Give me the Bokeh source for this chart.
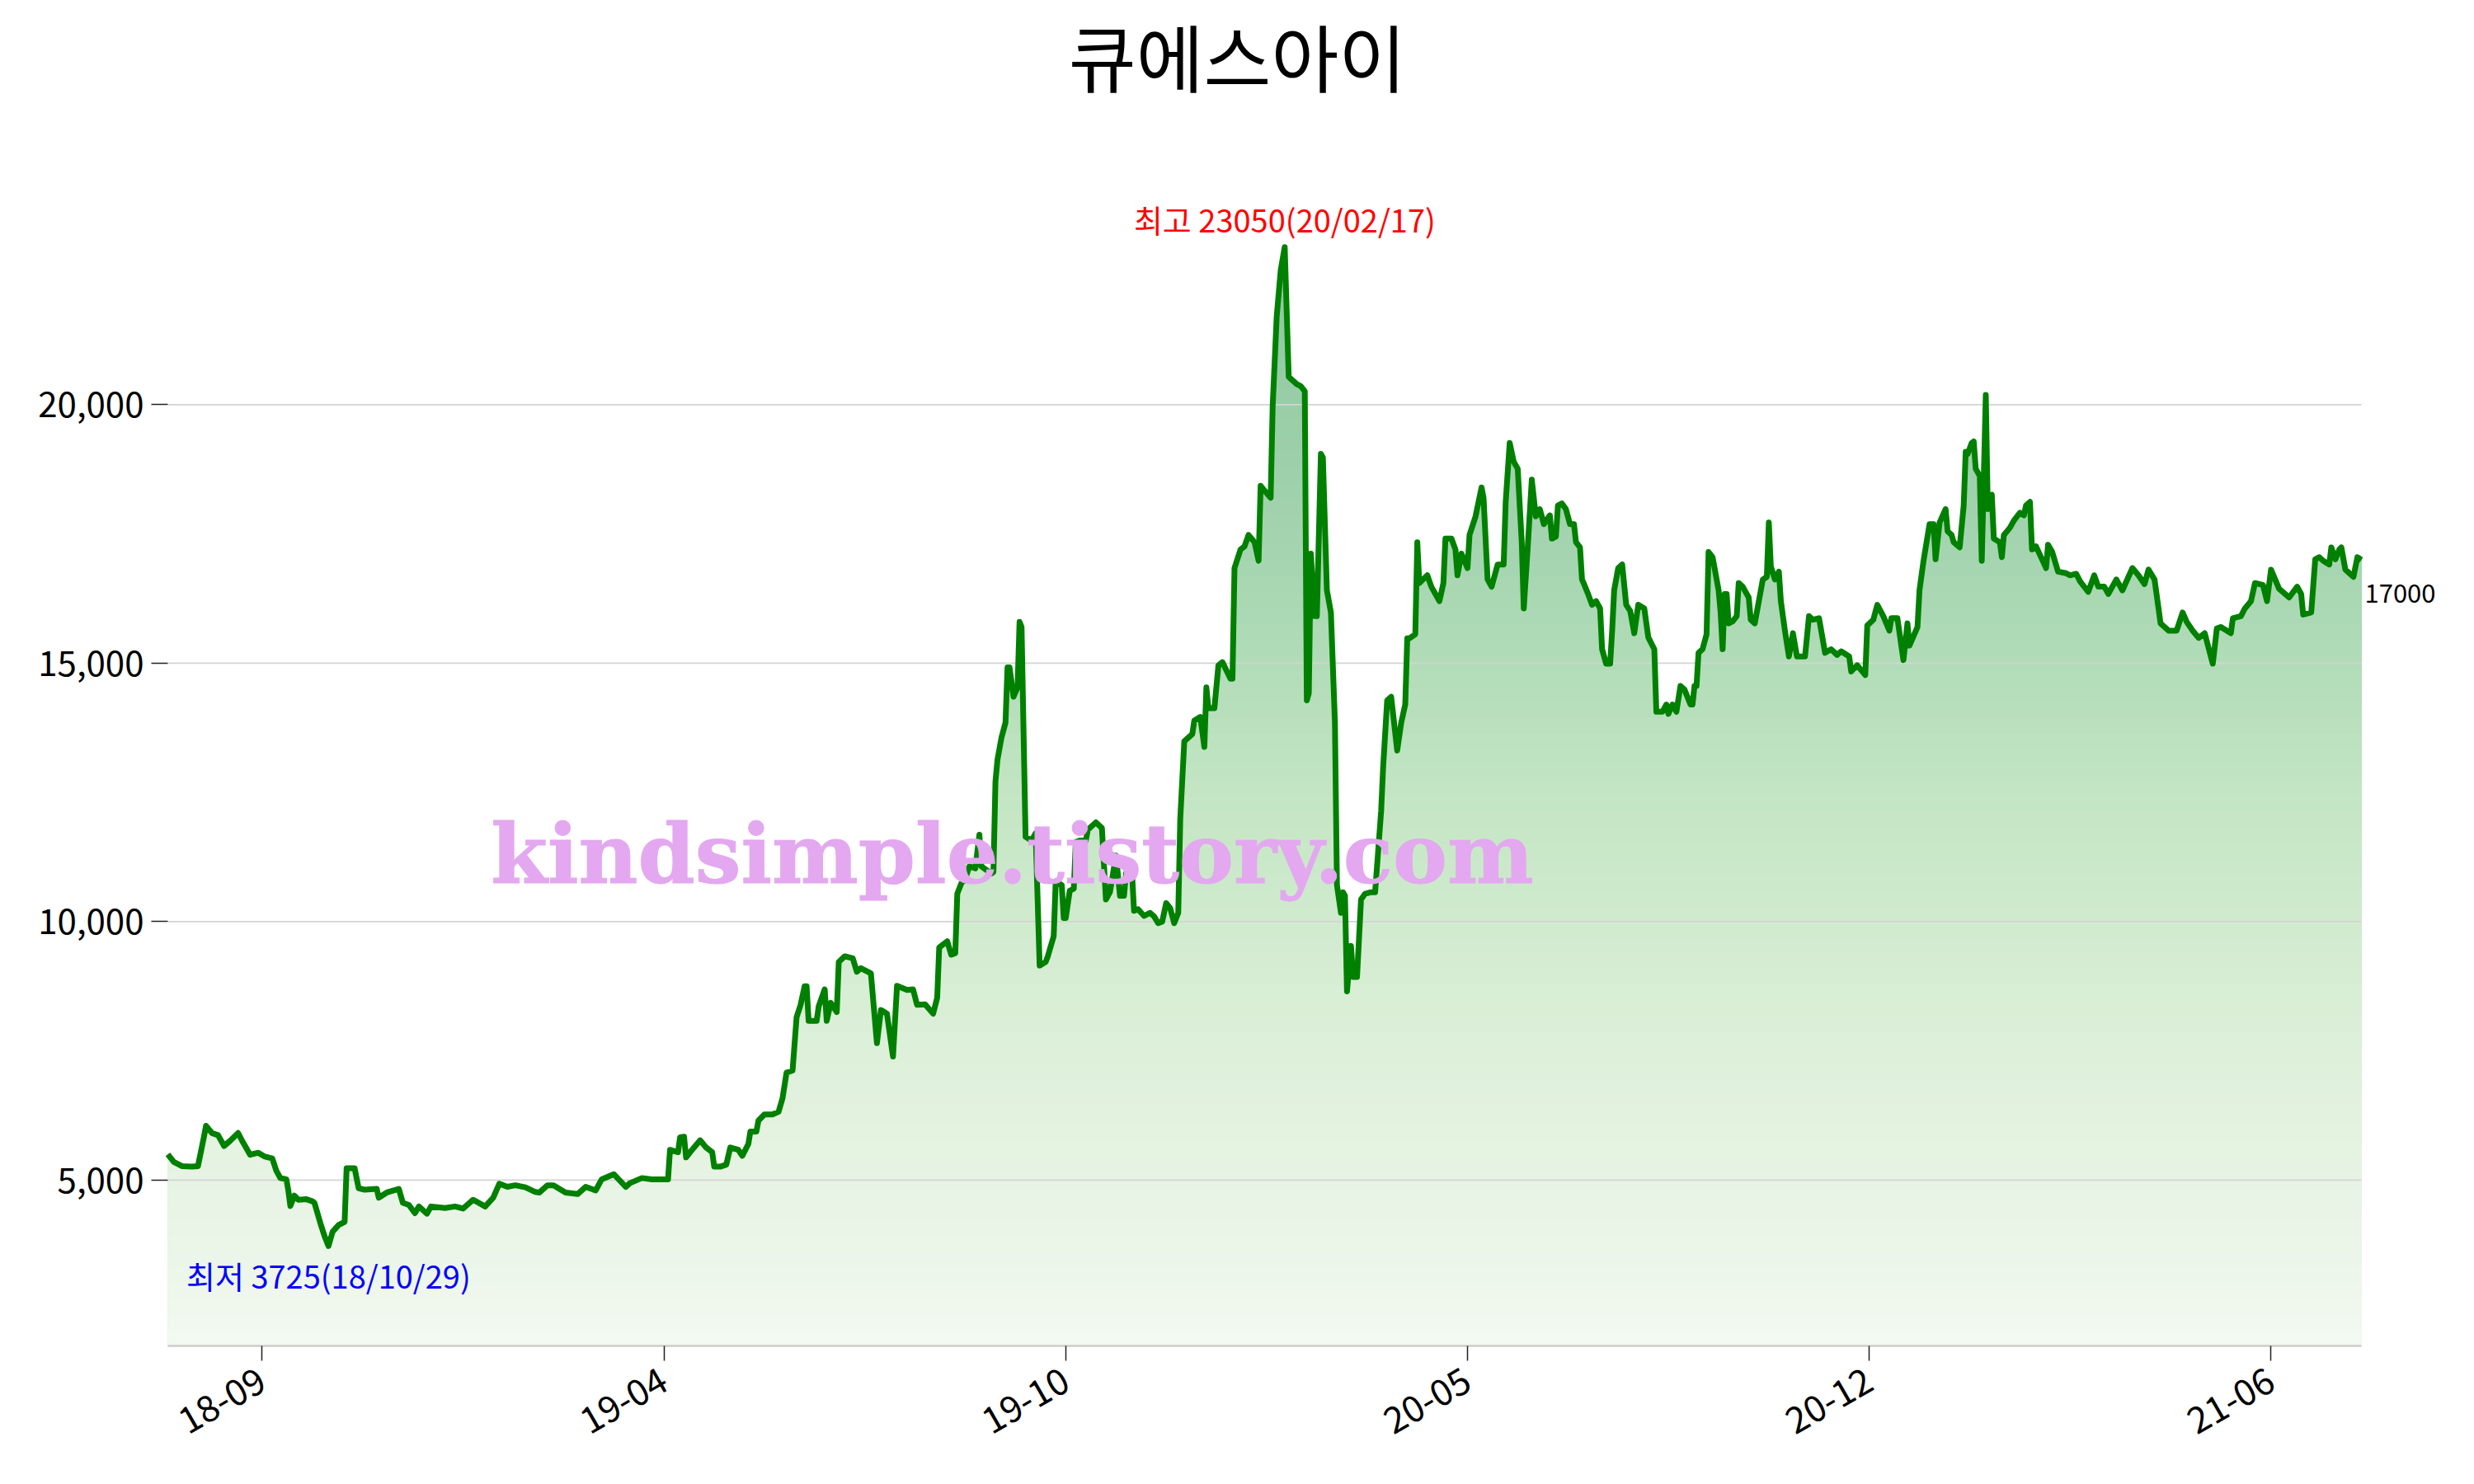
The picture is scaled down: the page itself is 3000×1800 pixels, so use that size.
import math
import numpy as np
import pandas as pd
from bokeh.plotting import figure
from bokeh.models import (Range1d, FixedTicker, DatetimeTickFormatter,
                          NumeralTickFormatter, Label)
from bokeh.embed import file_html
from bokeh.resources import INLINE

# ---------------- data ----------------
stock_name = "큐에스아이"

dates = [
    "2018-08-10", "2018-08-13", "2018-08-17", "2018-08-22", "2018-08-25", "2018-08-28", "2018-08-29",
    "2018-09-01", "2018-09-04", "2018-09-07", "2018-09-10", "2018-09-14", "2018-09-16", "2018-09-20",
    "2018-09-24", "2018-09-27", "2018-10-01", "2018-10-03", "2018-10-05", "2018-10-08", "2018-10-09",
    "2018-10-10", "2018-10-12", "2018-10-14", "2018-10-18", "2018-10-21", "2018-10-22", "2018-10-25",
    "2018-10-27", "2018-10-29", "2018-10-31", "2018-11-03", "2018-11-06", "2018-11-07", "2018-11-11",
    "2018-11-13", "2018-11-16", "2018-11-22", "2018-11-23", "2018-11-27", "2018-12-03", "2018-12-05",
    "2018-12-08", "2018-12-11", "2018-12-13", "2018-12-15", "2018-12-17", "2018-12-19", "2018-12-26",
    "2018-12-31", "2019-01-04", "2019-01-09", "2019-01-15", "2019-01-19", "2019-01-22", "2019-01-26",
    "2019-01-30", "2019-02-04", "2019-02-09",
    "2019-02-11", "2019-02-15", "2019-02-18", "2019-02-24", "2019-03-02", "2019-03-06", "2019-03-11",
    "2019-03-14", "2019-03-20", "2019-03-26", "2019-03-28", "2019-04-03", "2019-04-08", "2019-04-16",
    "2019-04-17", "2019-04-21", "2019-04-22", "2019-04-24", "2019-04-25", "2019-04-27", "2019-05-02",
    "2019-05-05", "2019-05-08", "2019-05-09", "2019-05-12", "2019-05-15", "2019-05-17", "2019-05-21",
    "2019-05-23", "2019-05-26", "2019-05-27", "2019-05-30", "2019-05-31", "2019-06-03", "2019-06-07",
    "2019-06-10", "2019-06-12", "2019-06-14", "2019-06-17", "2019-06-19", "2019-06-21", "2019-06-23",
    "2019-06-24", "2019-06-25", "2019-06-29", "2019-06-30", "2019-07-03", "2019-07-04", "2019-07-06",
    "2019-07-09", "2019-07-10", "2019-07-13", "2019-07-17", "2019-07-19", "2019-07-21", "2019-07-26",
    "2019-07-29", "2019-07-31", "2019-08-03", "2019-08-06", "2019-08-08", "2019-08-13",
    "2019-08-16", "2019-08-18", "2019-08-22", "2019-08-26", "2019-08-28", "2019-08-29", "2019-09-02",
    "2019-09-04", "2019-09-06", "2019-09-07", "2019-09-09", "2019-09-11", "2019-09-13", "2019-09-16",
    "2019-09-18", "2019-09-19", "2019-09-24", "2019-09-25", "2019-09-26", "2019-09-27", "2019-09-29",
    "2019-10-01", "2019-10-02", "2019-10-03", "2019-10-05", "2019-10-07", "2019-10-08", "2019-10-09",
    "2019-10-11", "2019-10-14", "2019-10-16", "2019-10-18", "2019-10-21", "2019-10-22", "2019-10-25",
    "2019-10-26", "2019-10-29", "2019-10-30", "2019-10-31", "2019-11-02", "2019-11-04", "2019-11-05",
    "2019-11-07", "2019-11-10", "2019-11-11", "2019-11-15", "2019-11-18", "2019-11-20", "2019-11-22",
    "2019-11-25", "2019-11-27", "2019-11-29", "2019-11-30", "2019-12-03", "2019-12-04", "2019-12-06",
    "2019-12-09", "2019-12-12", "2019-12-14", "2019-12-16", "2019-12-18", "2019-12-20", "2019-12-22",
    "2019-12-24", "2019-12-26", "2019-12-27", "2019-12-29", "2020-01-02", "2020-01-03", "2020-01-06",
    "2020-01-08", "2020-01-09", "2020-01-10", "2020-01-13", "2020-01-15", "2020-01-17", "2020-01-21",
    "2020-01-22", "2020-01-23", "2020-01-26", "2020-01-28", "2020-01-30", "2020-02-02", "2020-02-04",
    "2020-02-05", "2020-02-08", "2020-02-10", "2020-02-11", "2020-02-13", "2020-02-15", "2020-02-17",
    "2020-02-19", "2020-02-23", "2020-02-25", "2020-02-27", "2020-02-28", "2020-02-29", "2020-03-01",
    "2020-03-03", "2020-03-04", "2020-03-06", "2020-03-07", "2020-03-09", "2020-03-11", "2020-03-13",
    "2020-03-14", "2020-03-16", "2020-03-17", "2020-03-18", "2020-03-19", "2020-03-21", "2020-03-22",
    "2020-03-24", "2020-03-26", "2020-03-28", "2020-03-31", "2020-04-02", "2020-04-05", "2020-04-06",
    "2020-04-08", "2020-04-10", "2020-04-13", "2020-04-15", "2020-04-17", "2020-04-18", "2020-04-19",
    "2020-04-22", "2020-04-23", "2020-04-24", "2020-04-28", "2020-04-30", "2020-05-04", "2020-05-06",
    "2020-05-07", "2020-05-10", "2020-05-12", "2020-05-13", "2020-05-15", "2020-05-18", "2020-05-19",
    "2020-05-22", "2020-05-25", "2020-05-26", "2020-05-28", "2020-05-30", "2020-06-02", "2020-06-05",
    "2020-06-06", "2020-06-08", "2020-06-10", "2020-06-12", "2020-06-14", "2020-06-15", "2020-06-17",
    "2020-06-19", "2020-06-21", "2020-06-23", "2020-06-25", "2020-06-28", "2020-06-29", "2020-07-01",
    "2020-07-02", "2020-07-04", "2020-07-06", "2020-07-08", "2020-07-10", "2020-07-11", "2020-07-13",
    "2020-07-14", "2020-07-15", "2020-07-17", "2020-07-19", "2020-07-21", "2020-07-23", "2020-07-24",
    "2020-07-26", "2020-07-28", "2020-07-29", "2020-07-30", "2020-08-01", "2020-08-03", "2020-08-05",
    "2020-08-07", "2020-08-09", "2020-08-11", "2020-08-14", "2020-08-16",
    "2020-08-19", "2020-08-20", "2020-08-23", "2020-08-25", "2020-08-26", "2020-08-28", "2020-08-30",
    "2020-09-01", "2020-09-03", "2020-09-06", "2020-09-07", "2020-09-08", "2020-09-09", "2020-09-10",
    "2020-09-12", "2020-09-14", "2020-09-15", "2020-09-17", "2020-09-20", "2020-09-21", "2020-09-22",
    "2020-09-23", "2020-09-24", "2020-09-25", "2020-09-27", "2020-09-29", "2020-09-30", "2020-10-02",
    "2020-10-05", "2020-10-06", "2020-10-08", "2020-10-12", "2020-10-14", "2020-10-15", "2020-10-16",
    "2020-10-18", "2020-10-20", "2020-10-21", "2020-10-23", "2020-10-25", "2020-10-27", "2020-10-29",
    "2020-11-02", "2020-11-04", "2020-11-06", "2020-11-09", "2020-11-12", "2020-11-15", "2020-11-18",
    "2020-11-20", "2020-11-24", "2020-11-25", "2020-11-28", "2020-12-02", "2020-12-03", "2020-12-06",
    "2020-12-08", "2020-12-11", "2020-12-14", "2020-12-15", "2020-12-18", "2020-12-21", "2020-12-23",
    "2020-12-24", "2020-12-28", "2020-12-29", "2020-12-31", "2021-01-03", "2021-01-05", "2021-01-06",
    "2021-01-08", "2021-01-11", "2021-01-12", "2021-01-14", "2021-01-15", "2021-01-18", "2021-01-20",
    "2021-01-21", "2021-01-22", "2021-01-24", "2021-01-25", "2021-01-26", "2021-01-28", "2021-01-29",
    "2021-01-31", "2021-02-01", "2021-02-03", "2021-02-04", "2021-02-07", "2021-02-08", "2021-02-09",
    "2021-02-12", "2021-02-14", "2021-02-17",
    "2021-02-19", "2021-02-20", "2021-02-22", "2021-02-23", "2021-02-25", "2021-02-28", "2021-03-02",
    "2021-03-03", "2021-03-05", "2021-03-08", "2021-03-12", "2021-03-14", "2021-03-17", "2021-03-19",
    "2021-03-23", "2021-03-26", "2021-03-28", "2021-03-31", "2021-04-02", "2021-04-06", "2021-04-09",
    "2021-04-14", "2021-04-17", "2021-04-20", "2021-04-22", "2021-04-25", "2021-04-27", "2021-04-28",
    "2021-05-02", "2021-05-06", "2021-05-09", "2021-05-11", "2021-05-14", "2021-05-17", "2021-05-20",
    "2021-05-24", "2021-05-26", "2021-05-28", "2021-06-02", "2021-06-03", "2021-06-07", "2021-06-09",
    "2021-06-12", "2021-06-14", "2021-06-18", "2021-06-20", "2021-06-22", "2021-06-26", "2021-06-29",
    "2021-07-01", "2021-07-05", "2021-07-07", "2021-07-08", "2021-07-12", "2021-07-14", "2021-07-16",
    "2021-07-18", "2021-07-21", "2021-07-22", "2021-07-24", "2021-07-26", "2021-07-27", "2021-07-29",
    "2021-08-02", "2021-08-04", "2021-08-06",
]

prices = [
    5500, 5350, 5270, 5260, 5270, 5840, 6050,
    5910, 5870, 5660, 5760, 5910, 5760, 5490,
    5530, 5460, 5420, 5185, 5040, 5015, 4800,
    4500, 4700, 4620, 4630, 4590, 4560, 4160,
    3920, 3725, 4000, 4130, 4190, 5230, 5230,
    4840, 4815, 4830, 4660, 4760, 4830, 4560,
    4520, 4360, 4490, 4420, 4350, 4490, 4460,
    4490, 4450, 4620, 4490, 4660, 4930, 4870,
    4900, 4860, 4770,
    4760, 4900, 4900, 4760, 4730, 4870, 4800,
    5015, 5115, 4870, 4940, 5040, 5015, 5015,
    5585, 5540, 5830, 5840, 5440, 5540, 5770,
    5630, 5540, 5260, 5260, 5300, 5630, 5585,
    5470, 5700, 5940, 5940, 6150, 6270, 6270,
    6320, 6580, 7080, 7120, 8150, 8390, 8750,
    8750, 8080, 8080, 8360, 8690, 8080, 8430,
    8250, 9220, 9330, 9290, 9030, 9100, 9000,
    7650, 8290, 8220, 7390, 8760, 8680,
    8690, 8390, 8400, 8220, 8530, 9500, 9620,
    9360, 9390, 10540, 10740, 10830, 11070, 11030,
    11680, 11070, 10930, 10960, 12710, 13130, 13560,
    13850, 14920, 14920, 14350, 14530, 15800, 15700,
    11640, 11570, 11710, 9150, 9220, 9320, 9720,
    10780, 10710, 10070, 10070, 10600, 10640, 11540,
    11570, 11570, 11780, 11920, 11810, 10430, 10570,
    11280, 10500, 10500, 10930, 10930, 10210, 10240,
    10110, 10170, 10100, 9970, 10000, 10360, 10260,
    9970, 10170, 11990, 13490, 13630, 13890, 13960,
    13380, 14530, 14130, 14130, 14960, 15020, 14700,
    14700, 16840, 17200, 17260, 17480, 17340, 16980,
    18430, 18290, 18200, 19970, 21700, 22600, 23050,
    20540, 20400, 20360, 20260, 14280, 14420, 17120,
    15910, 15910, 19050, 18980, 16410, 15980, 13850,
    10710, 10170, 10570, 10500, 8650, 9530, 8930,
    8930, 10430, 10540, 10570, 10570, 12140, 12990,
    14280, 14350, 13310, 13850, 14200, 15480, 15480,
    15560, 17340, 16550, 16700, 16480, 16200, 16550,
    17410, 17410, 17200, 16700, 17120, 16840, 17480,
    17840, 18400, 18190, 16620, 16480, 16910, 16910,
    18120, 19260, 18900, 18760, 17340, 16060, 17260,
    18550, 17840, 17980, 17690, 17860, 17410, 17450,
    18050, 18090, 17980, 17690, 17690, 17340, 17240,
    16620, 16530, 16340, 16130, 16200, 16060, 15270,
    14990, 14990, 15630, 16410, 16840, 16910, 16130,
    16010, 15580, 16130, 16060, 15500,
    15270, 14060, 14060, 14200, 14020, 14200, 14060,
    14560, 14490, 14200, 14200, 14560, 14560, 15200,
    15270, 15560, 17150, 17050, 16410, 15980, 15270,
    16340, 16340, 15770, 15810, 15910, 16550, 16480,
    16270, 15840, 15770, 16620, 16670, 17720, 16870,
    16620, 16770, 16200, 15630, 15130, 15580, 15130,
    15130, 15910, 15840, 15870, 15200, 15270, 15160,
    15230, 15130, 14840, 14960, 14770, 15730, 15840,
    16130, 15910, 15630, 15870, 15870, 15060, 15770,
    15340, 15700, 16410, 16980, 17690, 17690, 17010,
    17720, 17980, 17550, 17480, 17340, 17240, 18050,
    19090, 19050, 19260, 19290, 18760, 18620, 16980,
    20190, 17980, 18260, 17410, 17340, 17050, 17480,
    17620, 17760, 17910,
    17860, 18050, 18120, 17200, 17260, 17010, 16840,
    17290, 17160, 16770, 16740, 16700, 16730, 16580,
    16380, 16700, 16480, 16480, 16340, 16620, 16410,
    16840, 16700, 16530, 16810, 16620, 16060, 15770,
    15630, 15630, 15980, 15800, 15630, 15490, 15580,
    14990, 15670, 15700, 15580, 15870, 15910, 16060,
    16200, 16550, 16510, 16200, 16810, 16440, 16340,
    16270, 16480, 16340, 15940, 15980, 17010, 17050,
    16980, 16910, 17240, 17010, 17200, 17240, 16810,
    16670, 17050, 17000,
]

y_ticks = [5000, 10000, 15000, 20000]
x_tick_dates = ["2018-09-26", "2019-04-14", "2019-10-31", "2020-05-18", "2020-12-04", "2021-06-22"]
watermark_text = "kindsimple.tistory.com"

# ---------------- derived ----------------
x = pd.to_datetime(dates)
y = np.array(prices, dtype=float)
imax, imin = int(np.argmax(y)), int(np.argmin(y))
ymax, ymin = y[imax], y[imin]
pad = 0.1 * (ymax - ymin)
y0, y1 = ymin - pad, ymax + pad


def ms(ts):
    return pd.Timestamp(ts).value / 1e6


xs, xe = ms(x[0]), ms(x[-1])

# layout (pixels): plot area plus room for the title above and the last-value label at right
PLOT_W, PLOT_H = 2660, 1454
TOP_ROOM, RIGHT_ROOM = 178, 110
x_end = xe + (xe - xs) * RIGHT_ROOM / PLOT_W
y_top = y1 + (y1 - y0) * TOP_ROOM / PLOT_H

FONT = "Noto Sans CJK KR"

p = figure(title=None, x_axis_type="datetime",
           x_range=Range1d(xs, x_end), y_range=Range1d(y0, y_top),
           frame_width=PLOT_W + RIGHT_ROOM, frame_height=PLOT_H + TOP_ROOM,
           min_border_left=203, min_border_right=5,
           min_border_top=0, min_border_bottom=155,
           output_backend="svg", toolbar_location=None)
p.outline_line_color = None
p.background_fill_color = "white"
p.border_fill_color = "white"

# gradient fill under the line: stacked layers, darkest first
grad_v = [y0, 3000, 7500, 12500, 17000, ymax]
grad_r = [243, 238, 222, 195, 165, 140]
grad_g = [249, 246, 240, 229, 213, 198]
grad_b = [241, 235, 218, 195, 176, 158]
n_layers = 70
edges = np.linspace(y0, ymax, n_layers + 1)
for k in range(n_layers, 0, -1):
    mid = 0.5 * (edges[k - 1] + edges[k])
    r = int(round(np.interp(mid, grad_v, grad_r)))
    g = int(round(np.interp(mid, grad_v, grad_g)))
    b = int(round(np.interp(mid, grad_v, grad_b)))
    top = y if k == n_layers else np.minimum(y, edges[k])
    p.varea(x=x, y1=np.full(len(y), y0), y2=top,
            fill_color=f"#{r:02x}{g:02x}{b:02x}", fill_alpha=1.0, level="underlay")

# horizontal grid lines across the data span (drawn over the fill)
p.segment(x0=[x[0]] * len(y_ticks), x1=[x[-1]] * len(y_ticks), y0=y_ticks, y1=y_ticks,
          line_color="#d3d3d3", line_width=1.8, level="glyph")

p.line(x, y, line_color="#008000", line_width=7, line_join="round", level="annotation")

p.xgrid.visible = False
p.ygrid.visible = False

# y axis
p.yaxis.ticker = FixedTicker(ticks=y_ticks, minor_ticks=[])
p.yaxis.formatter = NumeralTickFormatter(format="0,0")
p.yaxis.axis_line_color = None
p.yaxis.major_tick_out = 20
p.yaxis.major_tick_in = 0
p.yaxis.major_tick_line_color = "#222222"
p.yaxis.major_tick_line_width = 1.5
p.yaxis.minor_tick_line_color = None
p.yaxis.major_label_text_font = FONT
p.yaxis.major_label_text_font_size = "42px"
p.yaxis.major_label_text_color = "black"
p.yaxis.major_label_standoff = 9

# x axis
fmt = "%y-%m"
p.xaxis.ticker = FixedTicker(ticks=[ms(t) for t in x_tick_dates], minor_ticks=[])
p.xaxis.formatter = DatetimeTickFormatter(microseconds=fmt, milliseconds=fmt, seconds=fmt,
                                          minsec=fmt, minutes=fmt, hourmin=fmt, hours=fmt,
                                          days=fmt, months=fmt, years=fmt)
p.xaxis.bounds = (xs, xe)
p.xaxis.axis_line_color = "#cccccc"
p.xaxis.axis_line_width = 2.5
p.xaxis.major_tick_out = 18
p.xaxis.major_tick_in = 0
p.xaxis.major_tick_line_color = "#222222"
p.xaxis.major_tick_line_width = 1.5
p.xaxis.minor_tick_line_color = None
p.xaxis.major_label_orientation = math.pi / 6
p.xaxis.major_label_text_font = FONT
p.xaxis.major_label_text_font_size = "44px"
p.xaxis.major_label_text_color = "black"
p.xaxis.major_label_standoff = 20

# title (centred over the whole figure, above the plot area)
title = Label(x=xs + (xe - xs) * 1297 / PLOT_W, y=y1 + (y1 - y0) * 112 / PLOT_H,
              text=stock_name, text_color="black", text_font=FONT, text_font_size="89px",
              text_align="center", text_baseline="middle", level="overlay")

# annotations
hi = Label(x=ms(x[imax]), y=ymax, text=f"최고 {int(ymax)}({x[imax]:%y/%m/%d})",
           text_color="red", text_font=FONT, text_font_size="38px",
           text_align="center", text_baseline="bottom", y_offset=7, level="overlay")
lo = Label(x=ms(x[imin]), y=ymin, text=f"최저 {int(ymin)}({x[imin]:%y/%m/%d})",
           text_color="blue", text_font=FONT, text_font_size="38px",
           text_align="center", text_baseline="top", y_offset=-8, level="overlay")
last = Label(x=xe, y=y[-1], text=f"{int(y[-1])}",
             text_color="black", text_font=FONT, text_font_size="31px",
             text_align="left", text_baseline="middle", x_offset=4, y_offset=-41, level="overlay")
wm = Label(x=xs + 0.385 * (xe - xs), y=y0 + 0.41 * (y1 - y0), text=watermark_text,
           text_color="#E3A8EF", text_outline_color="#E3A8EF",
           text_font="DejaVu Serif", text_font_style="bold", text_font_size="99px",
           text_align="center", text_baseline="alphabetic", level="overlay")
for a in (title, hi, lo, last, wm):
    p.add_layout(a)

with open("out.html", "w") as f:
    f.write(file_html(p, INLINE))
